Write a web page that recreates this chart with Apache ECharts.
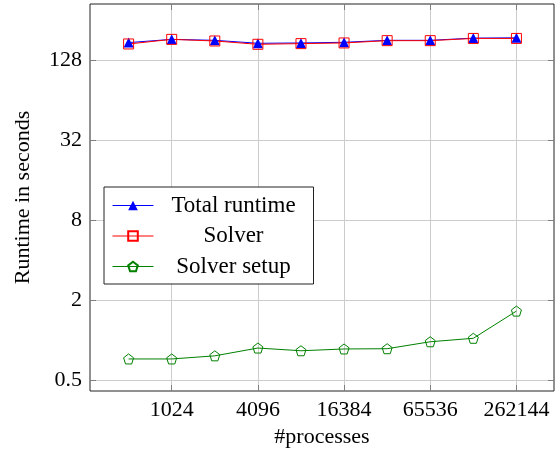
<!DOCTYPE html>
<html>
<head>
<meta charset="utf-8">
<script src="https://cdn.jsdelivr.net/npm/echarts@6/dist/echarts.min.js"></script>
<style>
  html, body { margin: 0; padding: 0; background: #fff; }
  #chart { width: 555px; height: 459px; }
</style>
</head>
<body>
<div id="chart"></div>
<script>
// number of processes (x) and measured runtimes (y, seconds)
var processes = [512, 1024, 2048, 4096, 8192, 16384, 32768, 65536, 131072, 262144];
var totalRuntime = [173, 183, 180, 171, 172, 174, 180, 180, 187, 188];
var solverTime = [169, 183, 178, 168, 170, 172, 179, 179, 186, 186];
var setupTime = [0.72, 0.72, 0.76, 0.87, 0.83, 0.856, 0.86, 0.97, 1.03, 1.65];
var xTicks = [1024, 4096, 16384, 65536, 262144];
var yTicks = [0.5, 2, 8, 32, 128];

var serif = '"Liberation Serif", "DejaVu Serif", serif';
var pentagon = 'path://M0,-1 L0.951,-0.309 L0.588,0.809 L-0.588,0.809 L-0.951,-0.309 Z';

function pairs(ys) {
    var out = [];
    for (var i = 0; i < processes.length; i++) {
        out.push([processes[i], ys[i]]);
    }
    return out;
}

var xMin = Math.pow(2, 8.104), xMax = Math.pow(2, 18.872);
var yMin = 0.5 * Math.pow(2, -0.275), yMax = 0.5 * Math.pow(2, 9.4);

function xAxisCfg(pos, main) {
    return {
        type: 'log', logBase: 2, position: pos, min: xMin, max: xMax,
        name: main ? '#processes' : '', nameLocation: 'middle', nameGap: 30,
        nameTextStyle: { fontFamily: serif, fontSize: 22, color: '#000' },
        axisLine: { show: false },
        axisTick: { show: true, inside: true, length: 6, customValues: xTicks,
            lineStyle: { color: '#808080' } },
        axisLabel: { show: main, customValues: xTicks, margin: 8,
            fontFamily: serif, fontSize: 22, color: '#000',
            formatter: function (v) { return String(v); } },
        splitLine: { show: main, lineStyle: { color: '#cccccc', width: 1 } },
        minorTick: { show: false }, minorSplitLine: { show: false }
    };
}
function yAxisCfg(pos, main) {
    return {
        type: 'log', logBase: 2, position: pos, min: yMin, max: yMax,
        name: main ? 'Runtime in seconds' : '', nameLocation: 'middle', nameGap: 56,
        nameTextStyle: { fontFamily: serif, fontSize: 22, color: '#000' },
        axisLine: { show: false },
        axisTick: { show: true, inside: true, length: 6, customValues: yTicks,
            lineStyle: { color: '#808080' } },
        axisLabel: { show: main, customValues: yTicks, margin: 8,
            fontFamily: serif, fontSize: 22, color: '#000',
            formatter: function (v) { return String(v); } },
        splitLine: { show: main, lineStyle: { color: '#cccccc', width: 1 } },
        minorTick: { show: false }, minorSplitLine: { show: false }
    };
}

var chart = echarts.init(document.getElementById('chart'), null, { renderer: 'canvas' });
chart.setOption({
    animation: false,
    backgroundColor: '#fff',
    grid: { left: 90, right: 1, top: 4, bottom: 68, show: true,
        borderColor: '#222', borderWidth: 1, backgroundColor: 'transparent' },
    xAxis: [xAxisCfg('bottom', true), xAxisCfg('top', false)],
    yAxis: [yAxisCfg('left', true), yAxisCfg('right', false)],
    legend: {
        orient: 'vertical', left: 104, top: 187,
        backgroundColor: '#fff', borderColor: '#222', borderWidth: 1,
        padding: [7, 5, 6, 8], itemWidth: 41, itemHeight: 12, itemGap: 7.5,
        data: [
            { name: 'Total runtime', lineStyle: { color: '#0000ff', width: 1 } },
            { name: 'Solver', lineStyle: { color: '#ff0000', width: 1 } },
            { name: 'Solver setup', lineStyle: { color: '#008000', width: 1 } }
        ],
        formatter: function (name) { return '{t|' + name + '}'; },
        textStyle: {
            rich: { t: { width: 150, align: 'center', fontFamily: serif,
                fontSize: 23, lineHeight: 24, color: '#000' } }
        }
    },
    series: [
        {
            name: 'Total runtime', type: 'line', data: pairs(totalRuntime),
            symbol: 'triangle', symbolSize: 10,
            lineStyle: { color: '#0000ff', width: 1 },
            itemStyle: { color: '#0000ff' }
        },
        {
            name: 'Solver', type: 'line', data: pairs(solverTime),
            symbol: 'rect', symbolSize: 10,
            lineStyle: { color: '#ff0000', width: 1 },
            itemStyle: { color: 'rgba(255,255,255,0)', borderColor: '#ff0000', borderWidth: 1 }
        },
        {
            name: 'Solver setup', type: 'line', data: pairs(setupTime),
            symbol: pentagon, symbolSize: 10,
            lineStyle: { color: '#008000', width: 1 },
            itemStyle: { color: 'rgba(255,255,255,0)', borderColor: '#008000', borderWidth: 1 }
        }
    ]
});
</script>
</body>
</html>
